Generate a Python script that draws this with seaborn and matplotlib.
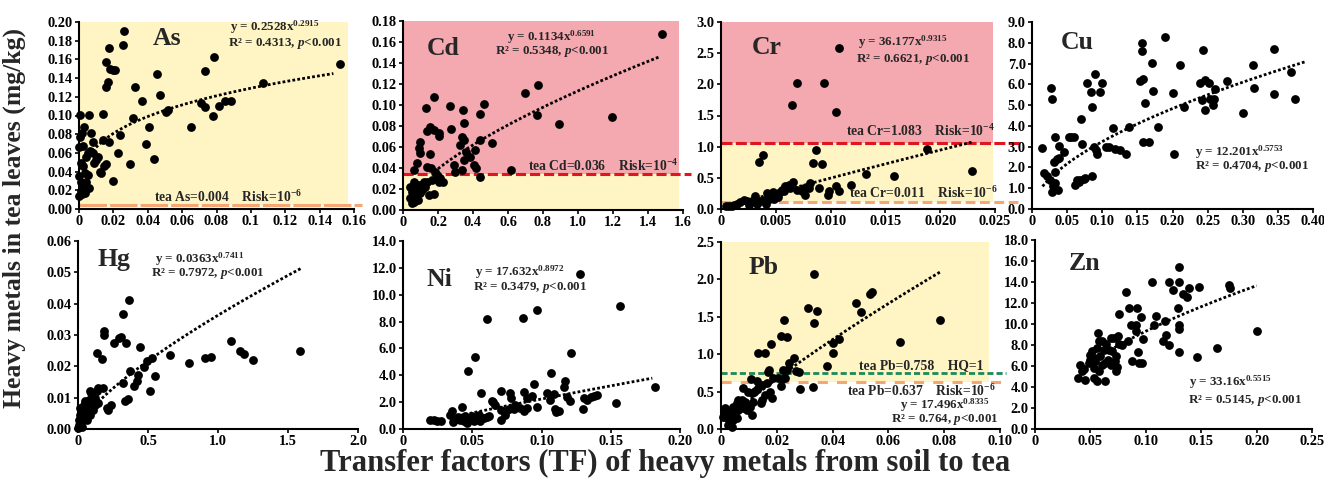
import numpy as np
import pandas as pd
import matplotlib
matplotlib.use("Agg")
import matplotlib.pyplot as plt
import seaborn as sns

metals = ["As", "Cd", "Cr", "Cu", "Hg", "Ni", "Pb", "Zn"]

# scatter values (TF, concentration in mg/kg)
as_tf = [0.0004, 0.006, 0.014, 0.0008, 0.002, 0.007, 0.003, 0.0, 0.0023, 0.008, 0.005, 0.008, 0.0066, 0.011,
         0.009, 0.0043, 0.0014, 0.0023, 0.0033, 0.005, 0.0, 0.0014, 0.0043, 0.0023, 0.006, 0.0014, 0.0033, 0.0,
         0.002, 0.012, 0.013, 0.0143, 0.0155, 0.014, 0.0174, 0.010, 0.0197, 0.0158, 0.0158, 0.0168, 0.0174,
         0.0178, 0.0197, 0.0207, 0.0255, 0.0261, 0.0228, 0.0240, 0.0298, 0.0317, 0.0325, 0.0365, 0.0387, 0.041,
         0.0439, 0.0456, 0.0471, 0.0506, 0.0516, 0.065, 0.071, 0.0732, 0.0734, 0.078, 0.0786, 0.0815, 0.0848,
         0.0885, 0.1072, 0.1517]
as_conc = [0.1005, 0.1005, 0.1016, 0.0774, 0.081, 0.081, 0.088, 0.0668, 0.067, 0.072, 0.060, 0.060, 0.0615,
           0.056, 0.049, 0.056, 0.049, 0.0455, 0.038, 0.0366, 0.0348, 0.029, 0.029, 0.024, 0.022, 0.019, 0.017,
           0.0135, 0.016, 0.040, 0.038, 0.0455, 0.048, 0.074, 0.072, 0.0526, 0.0295, 0.157, 0.131, 0.136, 0.172,
           0.150, 0.149, 0.149, 0.175, 0.190, 0.060, 0.079, 0.048, 0.097, 0.131, 0.1155, 0.070, 0.088, 0.054,
           0.144, 0.122, 0.104, 0.106, 0.088, 0.113, 0.148, 0.109, 0.099, 0.163, 0.110, 0.116, 0.1155, 0.135,
           0.1556]

cd_tf = [1.480, 0.695, 0.771, 0.766, 0.890, 1.194, 0.619, 0.465, 0.442, 0.509, 0.442, 0.442, 0.413, 0.404,
         0.419, 0.385, 0.362, 0.347, 0.343, 0.337, 0.328, 0.350, 0.350, 0.337, 0.270, 0.274, 0.290, 0.299,
         0.175, 0.133, 0.137, 0.156, 0.179, 0.204, 0.204, 0.095, 0.090, 0.099, 0.156, 0.080, 0.061, 0.137,
         0.160, 0.185, 0.194, 0.213, 0.229, 0.204, 0.166, 0.137, 0.118, 0.099, 0.147, 0.175, 0.128, 0.061,
         0.080, 0.051, 0.070, 0.042, 0.061, 0.084, 0.051, 0.099, 0.070, 0.109, 0.090, 0.042, 0.061]
cd_conc = [0.168, 0.1115, 0.1195, 0.0903, 0.0818, 0.0887, 0.038, 0.1014, 0.091, 0.064, 0.0665, 0.0317, 0.057,
           0.0428, 0.0396, 0.0507, 0.0555, 0.0824, 0.0951, 0.0697, 0.0618, 0.0665, 0.0475, 0.038, 0.0992,
           0.0776, 0.0428, 0.0364, 0.1077, 0.0967, 0.0751, 0.0792, 0.0760, 0.0729, 0.0703, 0.065, 0.0593,
           0.0539, 0.0532, 0.045, 0.038, 0.0412, 0.0396, 0.0364, 0.0333, 0.0301, 0.0269, 0.0269, 0.0285, 0.0269,
           0.0269, 0.0238, 0.0143, 0.0152, 0.0222, 0.0269, 0.0238, 0.0174, 0.019, 0.0111, 0.0079, 0.0095,
           0.0063, 0.0158, 0.0127, 0.019, 0.0174, 0.0222, 0.0143]

cr_tf = [0.0108, 0.00693, 0.00936, 0.00647, 0.01051, 0.00343, 0.0038, 0.00869, 0.00838, 0.00923, 0.01883,
         0.02287, 0.0158, 0.01324, 0.01188, 0.01048, 0.01078, 0.00981, 0.00972, 0.0089, 0.00799, 0.00808,
         0.00753, 0.00693, 0.00768, 0.00738, 0.00653, 0.00617, 0.00586, 0.00556, 0.00535, 0.00504, 0.00474,
         0.00516, 0.00465, 0.00434, 0.00419, 0.00389, 0.00358, 0.00313, 0.00283, 0.00237, 0.00207, 0.00176,
         0.00146, 0.00115, 0.0007, 0.00049, 0.001, 0.00252, 0.00328, 0.00413, 0.0048, 0.00571, 0.00632]
cr_conc = [2.584, 2.014, 2.014, 1.668, 1.561, 0.762, 0.869, 0.948, 0.735, 0.725, 0.964, 0.602, 0.522, 0.565,
           0.389, 0.362, 0.282, 0.282, 0.229, 0.336, 0.336, 0.416, 0.336, 0.298, 0.229, 0.282, 0.426, 0.389,
           0.362, 0.309, 0.272, 0.240, 0.266, 0.192, 0.202, 0.160, 0.256, 0.149, 0.123, 0.202, 0.123, 0.123,
           0.149, 0.107, 0.085, 0.069, 0.053, 0.043, 0.043, 0.069, 0.085, 0.085, 0.160, 0.282, 0.336]

cu_tf = [0.0142, 0.0285, 0.0275, 0.0166, 0.0214, 0.0251, 0.0299, 0.0365, 0.0285, 0.0332, 0.0323, 0.0308,
         0.0356, 0.038, 0.0332, 0.038, 0.0451, 0.0593, 0.0555, 0.0522, 0.0702, 0.0712, 0.0641, 0.0688, 0.0735,
         0.0759, 0.0617, 0.0664, 0.0854, 0.0783, 0.0845, 0.0854, 0.0902, 0.0973, 0.0996, 0.0878, 0.0925,
         0.0916, 0.1058, 0.1091, 0.1153, 0.1186, 0.1257, 0.1343, 0.1376, 0.1542, 0.158, 0.157, 0.157, 0.1613,
         0.158, 0.1661, 0.1708, 0.1789, 0.1722, 0.1898, 0.2007, 0.2017, 0.2112, 0.2159, 0.2396, 0.2420, 0.2429,
         0.2467, 0.2467, 0.2515, 0.2538, 0.2577, 0.2610, 0.2596, 0.2776, 0.3004, 0.3146, 0.3165, 0.344, 0.345,
         0.3687, 0.3749]
cu_conc = [2.957, 5.275, 5.834, 1.726, 1.566, 1.407, 1.119, 0.927, 0.799, 1.247, 1.758, 2.286, 2.398, 2.446,
           3.453, 3.053, 2.765, 3.453, 3.453, 3.453, 4.316, 3.133, 1.407, 1.407, 1.439, 1.487, 1.167, 1.279,
           1.598, 6.042, 5.643, 4.923, 6.490, 5.643, 6.074, 3.005, 2.637, 2.845, 3.005, 2.973, 3.884, 2.893,
           2.845, 2.637, 3.964, 6.170, 6.250, 7.593, 8.008, 5.115, 3.213, 3.245, 7.033, 3.932, 5.675, 8.280,
           5.595, 2.653, 6.953, 4.923, 6.042, 5.243, 7.672, 6.202, 4.763, 6.074, 5.275, 5.003, 5.754, 5.275,
           6.170, 4.603, 6.953, 5.802, 7.720, 5.515, 6.602, 5.275]

hg_tf = [1.589, 1.094, 1.160, 1.184, 1.249, 0.907, 0.949, 0.790, 0.656, 0.525, 0.492, 0.473, 0.548, 0.516,
         0.443, 0.427, 0.422, 0.403, 0.368, 0.361, 0.321, 0.305, 0.293, 0.345, 0.255, 0.187, 0.187, 0.134,
         0.169, 0.321, 0.333, 0.356, 0.239, 0.204, 0.216, 0.180, 0.141, 0.134, 0.087, 0.094, 0.075, 0.052,
         0.145, 0.122, 0.098, 0.070, 0.052, 0.033, 0.016, 0.005, 0.023, 0.047, 0.075, 0.110, 0.009, 0.028,
         0.0, 0.063, 0.087, 0.040, 0.016, 0.035, 0.060, 0.100, 0.120, 0.020, 0.045]
hg_conc = [0.0248, 0.0282, 0.0250, 0.0240, 0.0221, 0.0228, 0.0229, 0.0210, 0.0237, 0.0228, 0.0218, 0.0197,
           0.0168, 0.0122, 0.0263, 0.0173, 0.0154, 0.0137, 0.0184, 0.0413, 0.0368, 0.0293, 0.0289, 0.0276,
           0.0276, 0.0314, 0.0301, 0.0242, 0.0223, 0.0146, 0.0088, 0.0095, 0.0077, 0.0068, 0.0061, 0.0130,
           0.0132, 0.0120, 0.0122, 0.0114, 0.0093, 0.0090, 0.0082, 0.0077, 0.0072, 0.0066, 0.0061, 0.0055,
           0.0045, 0.0029, 0.0023, 0.0039, 0.0055, 0.0061, 0.0013, 0.0007, 0.0004, 0.0029, 0.0045, 0.0077,
           0.0066, 0.0030, 0.0050, 0.0085, 0.0100, 0.0035, 0.0065]

ni_tf = [0.128, 0.157, 0.0964, 0.0865, 0.0607, 0.1212, 0.0523, 0.0467, 0.1065, 0.1171, 0.0945, 0.1817, 0.0566,
         0.0711, 0.0776, 0.0877, 0.0781, 0.0651, 0.0667, 0.0896, 0.0933, 0.1041, 0.1089, 0.106, 0.1166, 0.1186,
         0.1205, 0.1306, 0.133, 0.1354, 0.1378, 0.1402, 0.1535, 0.1301, 0.1096, 0.1108, 0.1125, 0.0964, 0.0896,
         0.0877, 0.0843, 0.0812, 0.08, 0.0764, 0.0747, 0.0733, 0.0708, 0.0704, 0.0643, 0.0607, 0.062, 0.0583,
         0.0559, 0.0535, 0.0499, 0.0475, 0.0463, 0.0451, 0.0427, 0.0414, 0.0395, 0.0366, 0.0354, 0.0342,
         0.0361, 0.0439, 0.0487, 0.0511, 0.0222, 0.0198, 0.0246, 0.0275, 0.0547]
ni_conc = [11.52, 9.19, 8.85, 8.25, 8.20, 5.67, 5.38, 4.29, 4.16, 3.54, 3.37, 3.10, 2.65, 2.80, 2.68, 2.75,
           2.30, 1.98, 1.81, 2.30, 2.45, 2.68, 2.63, 2.18, 3.10, 2.35, 2.06, 2.30, 2.18, 2.35, 2.48, 2.55, 1.93,
           1.51, 1.51, 1.26, 1.36, 1.61, 1.56, 1.31, 1.56, 1.81, 1.51, 1.51, 1.31, 1.07, 0.69, 1.44, 2.11, 0.87,
           0.94, 0.82, 0.57, 0.82, 0.94, 0.69, 0.45, 0.94, 1.61, 0.69, 0.87, 0.69, 1.31, 1.07, 0.50, 0.57, 0.82,
           0.62, 0.69, 0.64, 0.62, 0.57, 1.07]

pb_tf = [0.0335, 0.0535, 0.0543, 0.0483, 0.0502, 0.0311, 0.0343, 0.0333, 0.0786, 0.0642, 0.0227, 0.0215,
         0.0236, 0.0179, 0.0132, 0.0158, 0.0403, 0.0423, 0.0403, 0.0379, 0.026, 0.0244, 0.0224, 0.0236, 0.0268,
         0.028, 0.0173, 0.017, 0.0106, 0.0128, 0.0164, 0.0188, 0.0203, 0.0218, 0.023, 0.0215, 0.0283, 0.0331,
         0.0146, 0.0134, 0.0122, 0.011, 0.008, 0.0098, 0.0176, 0.0158, 0.0182, 0.0146, 0.0144, 0.0116, 0.011,
         0.0086, 0.0074, 0.0062, 0.0068, 0.0056, 0.0044, 0.008, 0.0062, 0.005, 0.0038, 0.0026, 0.0014, 0.0008,
         0.002, 0.0032, 0.0044, 0.0026, 0.0056, 0.0092, 0.0104, 0.0012, 0.0038]
pb_conc = [2.068, 1.805, 1.827, 1.689, 1.569, 1.613, 1.578, 1.413, 1.457, 1.159, 1.453, 1.248, 1.234, 1.132,
           1.012, 1.012, 1.154, 1.199, 1.012, 0.847, 0.954, 0.878, 0.789, 0.789, 0.775, 0.766, 0.789, 0.766,
           0.668, 0.642, 0.611, 0.677, 0.686, 0.668, 0.677, 0.579, 0.535, 0.557, 0.588, 0.544, 0.508, 0.477,
           0.553, 0.499, 0.490, 0.455, 0.410, 0.388, 0.343, 0.365, 0.187, 0.365, 0.388, 0.388, 0.321, 0.343,
           0.299, 0.276, 0.254, 0.232, 0.209, 0.232, 0.276, 0.165, 0.143, 0.098, 0.120, 0.053, 0.152, 0.254,
           0.299, 0.209, 0.031]

zn_tf = [0.1297, 0.1052, 0.1206, 0.1297, 0.1248, 0.1339, 0.137, 0.1394, 0.1479, 0.1748, 0.1764, 0.0818,
         0.0848, 0.0918, 0.0758, 0.0961, 0.1091, 0.0864, 0.0909, 0.0915, 0.1076, 0.1176, 0.1294, 0.1303,
         0.1303, 0.1182, 0.1158, 0.1212, 0.0976, 0.0839, 0.1303, 0.1461, 0.1645, 0.2, 0.093, 0.0879, 0.0939,
         0.097, 0.057, 0.0576, 0.0606, 0.0642, 0.0682, 0.0712, 0.0752, 0.0758, 0.0788, 0.0515, 0.05, 0.053,
         0.056, 0.0621, 0.0667, 0.0697, 0.0727, 0.0661, 0.0636, 0.0606, 0.0682, 0.0721, 0.0742, 0.0733, 0.0576,
         0.053, 0.0485, 0.044, 0.0409, 0.0424, 0.0388, 0.0455, 0.053, 0.056, 0.0636, 0.0545, 0.0591, 0.05]
zn_conc = [15.40, 14.04, 13.98, 14.04, 13.25, 12.84, 12.58, 13.47, 13.53, 13.72, 13.41, 13.03, 11.57, 11.57,
           11.00, 10.62, 10.78, 9.92, 9.86, 9.29, 9.86, 10.30, 11.57, 9.86, 9.51, 8.97, 8.34, 7.96, 8.56, 8.34,
           7.29, 6.85, 7.70, 9.38, 7.32, 6.50, 6.28, 6.28, 9.19, 8.40, 8.34, 8.08, 8.65, 8.65, 8.81, 8.11, 8.02,
           7.39, 7.07, 6.75, 7.70, 7.54, 7.54, 7.39, 6.91, 6.59, 6.28, 6.12, 6.12, 6.43, 5.86, 5.48, 5.48, 5.80,
           6.28, 5.74, 6.12, 5.48, 4.85, 4.63, 4.85, 4.53, 4.53, 6.43, 6.91, 6.59]

# power fits printed on the panels, y = a * x^b, and the TF range they are drawn over
fit_a = [0.2528, 0.1134, 36.177, 12.201, 0.0363, 17.632, 17.496, 33.16]
fit_b = [0.2915, 0.6591, 0.9315, 0.5753, 0.7411, 0.8972, 0.8335, 0.5515]
fit_r2 = ["0.4313", "0.5348", "0.6621", "0.4704", "0.7972", "0.3479", "0.764", "0.5145"]
fit_from = [0.008, 0.2, 0.001, 0.015, 0.12, 0.034, 0.008, 0.06]
fit_to = [0.148, 1.46, 0.023, 0.39, 1.6, 0.18, 0.079, 0.20]

# tick labels
as_xt = ["0", "0.02", "0.04", "0.06", "0.08", "0.1", "0.12", "0.14", "0.16"]
as_yt = ["0.00", "0.02", "0.04", "0.06", "0.08", "0.10", "0.12", "0.14", "0.16", "0.18", "0.20"]
cd_xt = ["0", "0.2", "0.4", "0.6", "0.8", "1.0", "1.2", "1.4", "1.6"]
cd_yt = ["0.00", "0.02", "0.04", "0.06", "0.08", "0.10", "0.12", "0.14", "0.16", "0.18"]
cr_xt = ["0", "0.005", "0.010", "0.015", "0.020", "0.025"]
cr_yt = ["0.0", "0.5", "1.0", "1.5", "2.0", "2.5", "3.0"]
cu_xt = ["0", "0.05", "0.10", "0.15", "0.20", "0.25", "0.30", "0.35", "0.40"]
cu_yt = ["0.0", "1.0", "2.0", "3.0", "4.0", "5.0", "6.0", "7.0", "8.0", "9.0"]
hg_xt = ["0", "0.5", "1.0", "1.5", "2.0"]
hg_yt = ["0.00", "0.01", "0.02", "0.03", "0.04", "0.05", "0.06"]
ni_xt = ["0", "0.05", "0.10", "0.15", "0.20"]
ni_yt = ["0.0", "2.0", "4.0", "6.0", "8.0", "10.0", "12.0", "14.0"]
pb_xt = ["0", "0.02", "0.04", "0.06", "0.08", "0.10"]
pb_yt = ["0.0", "0.5", "1.0", "1.5", "2.0", "2.5"]
zn_xt = ["0", "0.05", "0.10", "0.15", "0.20", "0.25"]
zn_yt = ["0.0", "2.0", "4.0", "6.0", "8.0", "10.0", "12.0", "14.0", "16.0", "18.0"]

# guideline levels as drawn, and where the shaded boxes stop
as_line = 0.0045
cd_line = 0.034
cr_lines = [0.12, 1.066]
pb_lines = [0.624, 0.753]
shade_to = {"As": 0.1565, "Cd": 1.575, "Cr": 0.0248, "Pb": 0.0962}

YELLOW = "#FFF5C4"
PINK = "#F4A8B0"
RED = "#E0161E"
ORANGE = "#F4A674"
GREEN = "#1B8A5A"

sns.set_theme(style="ticks")
plt.rcParams["font.family"] = ["Liberation Serif", "DejaVu Serif"]
plt.rcParams["font.weight"] = "bold"
plt.rcParams["mathtext.fontset"] = "custom"
plt.rcParams["mathtext.rm"] = "Liberation Serif:bold"
plt.rcParams["mathtext.it"] = "Liberation Serif:italic:bold"
plt.rcParams["mathtext.bf"] = "Liberation Serif:bold"

W, H = 1324, 480
fig = plt.figure(figsize=(W / 100, H / 100), dpi=100)

EQ_SIZE = 9.4
NOTE_SIZE = 9.8


def base_panel(box, tf, conc, k, xt, yt, name_xy, eq_xy, r2_xy):
    l, t, r, b = box
    ax = fig.add_axes([l / W, 1 - b / H, (r - l) / W, (b - t) / H])
    df = pd.DataFrame({"tf": tf, "conc": conc})
    sns.scatterplot(data=df, x="tf", y="conc", color="black", s=40, linewidth=0, ax=ax, zorder=3)
    ax.collections[-1].set_clip_on(False)
    xs = np.linspace(fit_from[k], fit_to[k], 200)
    ax.plot(xs, fit_a[k] * xs ** fit_b[k], color="black", lw=2.0, ls=(0, (1, 0.8)), zorder=4)

    xv = [float(s) for s in xt]
    yv = [float(s) for s in yt]
    ax.set_xticks(xv)
    ax.set_xticklabels(xt)
    ax.set_yticks(yv)
    ax.set_yticklabels(yt)
    ax.set_xlim(0, xv[-1])
    ax.set_ylim(0, yv[-1])
    ax.set(xlabel="", ylabel="")
    sns.despine(ax=ax)
    for s in ("left", "bottom"):
        ax.spines[s].set_linewidth(1.5)
        ax.spines[s].set_color("black")
    ax.tick_params(length=3, width=1.2, labelsize=10.4, pad=1.5, colors="black")

    ax.text(*name_xy, metals[k], transform=ax.transAxes, fontsize=18.5, ha="center", va="center")
    ax.text(*eq_xy, f"y = {fit_a[k]}x$^{{{fit_b[k]}}}$", transform=ax.transAxes,
            fontsize=EQ_SIZE, ha="center", va="center")
    ax.text(*r2_xy, f"R² = {fit_r2[k]}, $\\mathit{{p}}$<0.001", transform=ax.transAxes,
            fontsize=EQ_SIZE, ha="center", va="center")
    return ax


def shade(ax, x_to, y0, y1, color):
    ax.fill_between([0, x_to], y0, y1, color=color, lw=0, zorder=0)


def limit_line(ax, y, color, x_to, dash, lw=2.2):
    ax.plot([0, x_to], [y, y], transform=ax.get_yaxis_transform(), color=color, lw=lw,
            ls=(0, dash), clip_on=False, zorder=2, solid_capstyle="butt")


def note(ax, x, y, s):
    ax.text(x, y, s, transform=ax.transAxes, fontsize=NOTE_SIZE, ha="center", va="center")


# As
ax = base_panel((79, 22, 354, 209), as_tf, as_conc, 0, as_xt, as_yt, (0.32, 0.91), (0.713, 0.97), (0.749, 0.885))
shade(ax, shade_to["As"], as_line, 0.20, YELLOW)
limit_line(ax, as_line, ORANGE, 1.03, (9, 1))
note(ax, 0.542, 0.066, "tea As=0.004    Risk=10$^{-6}$")

# Cd
ax = base_panel((403, 21, 683, 210), cd_tf, cd_conc, 1, cd_xt, cd_yt, (0.143, 0.852), (0.532, 0.915), (0.532, 0.836))
shade(ax, shade_to["Cd"], 0, cd_line, YELLOW)
shade(ax, shade_to["Cd"], cd_line, 0.18, PINK)
limit_line(ax, cd_line, RED, 1.03, (3.3, 1.3))
note(ax, 0.714, 0.232, "tea Cd=0.036    Risk=10$^{-4}$")

# Cr
ax = base_panel((721, 22, 995, 209), cr_tf, cr_conc, 2, cr_xt, cr_yt, (0.168, 0.866), (0.664, 0.893), (0.70, 0.797))
shade(ax, shade_to["Cr"], cr_lines[0], cr_lines[1], YELLOW)
shade(ax, shade_to["Cr"], cr_lines[1], 3.0, PINK)
limit_line(ax, cr_lines[1], RED, 1.09, (3.6, 1.1))
limit_line(ax, cr_lines[0], ORANGE, 1.09, (3.2, 1.5))
note(ax, 0.726, 0.415, "tea Cr=1.083    Risk=10$^{-4}$")
note(ax, 0.737, 0.086, "tea Cr=0.011    Risk=10$^{-6}$")

# Cu
base_panel((1032, 22, 1313, 209), cu_tf, cu_conc, 3, cu_xt, cu_yt, (0.16, 0.893), (0.74, 0.305), (0.783, 0.225))

# Hg
base_panel((78, 241, 358, 429), hg_tf, hg_conc, 4, hg_xt, hg_yt, (0.129, 0.899), (0.436, 0.905), (0.464, 0.828))

# Ni
base_panel((403, 241, 680, 429), ni_tf, ni_conc, 5, ni_xt, ni_yt, (0.13, 0.793), (0.422, 0.835), (0.458, 0.752))

# Pb
ax = base_panel((721, 242, 1000, 429), pb_tf, pb_conc, 6, pb_xt, pb_yt, (0.151, 0.861), (0.803, 0.125), (0.803, 0.05))
shade(ax, shade_to["Pb"], pb_lines[0], 2.5, YELLOW)
limit_line(ax, pb_lines[1], GREEN, 1.02, (2.2, 1.1), lw=2.0)
limit_line(ax, pb_lines[0], ORANGE, 1.02, (3.3, 3.0))
note(ax, 0.717, 0.34, "tea Pb=0.758    HQ=1")
note(ax, 0.717, 0.203, "tea Pb=0.637    Risk=10$^{-6}$")

# Zn
base_panel((1035, 240, 1312, 429), zn_tf, zn_conc, 7, zn_xt, zn_yt, (0.18, 0.878), (0.704, 0.248), (0.758, 0.153))

fig.text(0.0106, 0.546, "Heavy metals in tea leaves (mg/kg)", rotation=90, ha="center", va="center",
         fontsize=18.5)
fig.text(0.502, 0.035, "Transfer factors (TF) of heavy metals from soil to tea", ha="center", va="center",
         fontsize=22)

fig.savefig("out.png", dpi=100)
